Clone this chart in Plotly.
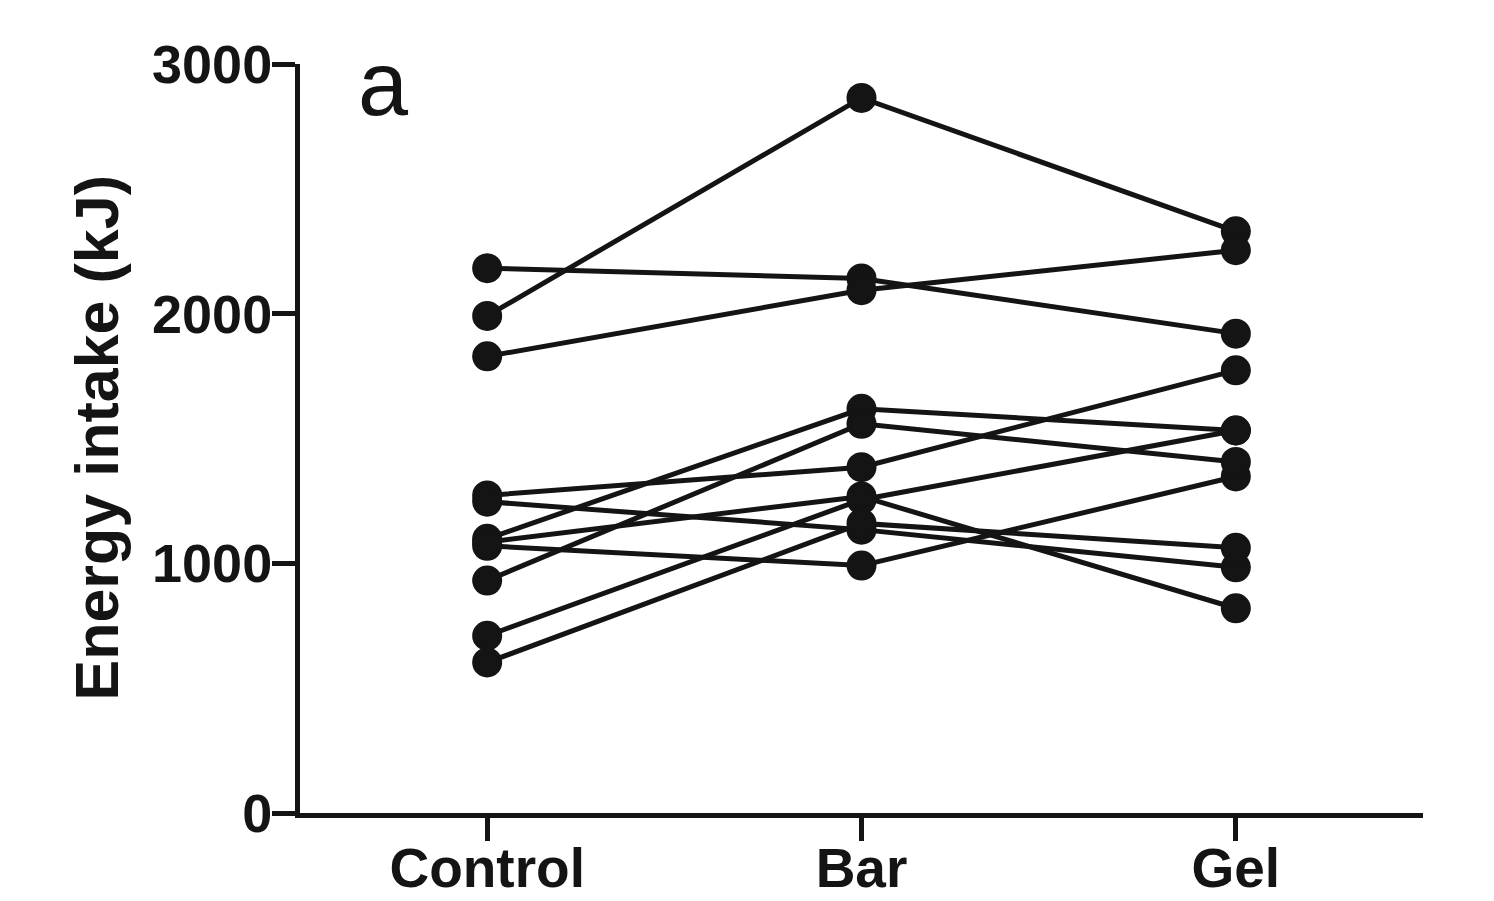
import plotly.graph_objects as go

conditions = ["Control", "Bar", "Gel"]

control = [2182, 1991, 1829, 1272, 1247, 1098, 1085, 1070, 931, 710, 603]
bar     = [2141, 2864, 2094, 1385, 1135, 1619, 1268, 991, 1559, 1255, 1160]
gel     = [1920, 2330, 2254, 1773, 984, 1532, 820, 1348, 1406, 1532, 1062]

y_ticks = [0, 1000, 2000, 3000]

INK = "#141414"
FONT = "Liberation Sans, Arial, sans-serif"

fig = go.Figure()
for c, b, g in zip(control, bar, gel):
    fig.add_trace(go.Scatter(
        x=conditions, y=[c, b, g], mode="lines+markers",
        line=dict(color=INK, width=5),
        marker=dict(color=INK, size=30),
        showlegend=False, hoverinfo="y"))

fig.update_layout(
    template="none",
    width=1494, height=901,
    margin=dict(l=300, r=71, t=64, b=88, autoexpand=False),
    paper_bgcolor="white", plot_bgcolor="white",
    font=dict(family=FONT, color=INK),
    xaxis=dict(
        type="category", categoryorder="array", categoryarray=conditions,
        range=[-0.5, 2.5], showline=True, linecolor=INK, linewidth=5,
        ticks="outside", ticklen=23, tickwidth=5, tickcolor=INK,
        showgrid=False, zeroline=False, automargin=False,
        ticklabelstandoff=-20,
        tickfont=dict(family=FONT, size=55, color=INK, weight="bold"),
    ),
    yaxis=dict(
        range=[0, 3000], tickvals=y_ticks, showline=True, linecolor=INK, linewidth=5,
        ticks="outside", ticklen=23, tickwidth=5, tickcolor=INK,
        showgrid=False, zeroline=False, automargin=False,
        ticklabelstandoff=-11,
        tickfont=dict(family=FONT, size=54, color=INK, weight="bold"),
    ),
    annotations=[
        dict(text="Energy intake (kJ)", textangle=-90, xref="paper", yref="paper",
             x=(96 - 300) / 1123, y=0.5, xanchor="center", yanchor="middle",
             showarrow=False,
             font=dict(family=FONT, size=61, color=INK, weight="bold")),
        dict(text="a", xref="paper", yref="paper",
             x=(383 - 300) / 1123, y=(813 - 84) / 749, xanchor="center", yanchor="middle",
             showarrow=False,
             font=dict(family=FONT, size=90, color=INK)),
    ],
)

fig.write_html("out.html")
